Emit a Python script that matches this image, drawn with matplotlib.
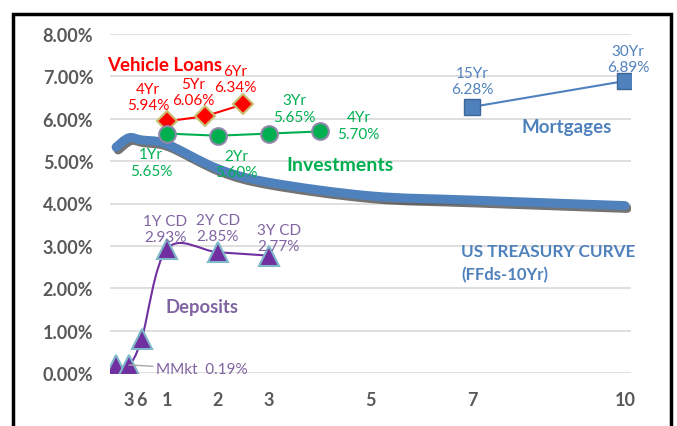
import numpy as np
import matplotlib
matplotlib.use("Agg")
import matplotlib.pyplot as plt
import matplotlib.patheffects as pe
from matplotlib.path import Path
from matplotlib.patches import PathPatch, Rectangle

plt.rcParams['font.family'] = ['Lato', 'DejaVu Sans']

# --- data (x = years to maturity, y = rate %) ---
treasury_x = [0, 0.25, 0.5, 1, 2, 3, 5, 7, 10]
treasury_y = [5.33, 5.55, 5.50, 5.40, 4.82, 4.50, 4.18, 4.08, 3.95]

vehicle_x = [1, 1.75, 2.5]
vehicle_y = [5.94, 6.06, 6.34]
vehicle_terms = ["4Yr", "5Yr", "6Yr"]

invest_x = [1, 2, 3, 4]
invest_y = [5.65, 5.60, 5.65, 5.70]
invest_terms = ["1Yr", "2Yr", "3Yr", "4Yr"]

mortgage_x = [7, 10]
mortgage_y = [6.28, 6.89]
mortgage_terms = ["15Yr", "30Yr"]

deposit_x = [0, 0.25, 0.5, 1, 2, 3]
deposit_y = [0.19, 0.19, 0.80, 2.93, 2.85, 2.77]
deposit_terms = ["", "MMkt", "", "1Y CD", "2Y CD", "3Y CD"]

xtick_pos = [0.25, 0.5, 1, 2, 3, 5, 7, 10]
xtick_lbl = ["3", "6", "1", "2", "3", "5", "7", "10"]
ytick_pos = np.arange(0, 9)

RED = "#FF0000"
GREEN = "#00B050"
BLUE = "#4F81BD"
PURPLE = "#7030A0"
PURPLE_TXT = "#8064A2"
GRAY = "#595959"


def smooth_path(xs, ys):
    # excel-like smoothed line: catmull-rom segments as cubic beziers
    pts = np.column_stack([xs, ys]).astype(float)
    verts = [pts[0]]
    codes = [Path.MOVETO]
    n = len(pts)
    for i in range(n - 1):
        p0 = pts[i - 1] if i > 0 else pts[i]
        p1, p2 = pts[i], pts[i + 1]
        p3 = pts[i + 2] if i + 2 < n else pts[i + 1]
        c1 = p1 + (p2 - p0) / 6.0
        c2 = p2 - (p3 - p1) / 6.0
        verts += [c1, c2, p2]
        codes += [Path.CURVE4] * 3
    return Path(verts, codes)


fig = plt.figure(figsize=(6.77, 4.27), dpi=100)
ax = fig.add_axes([110 / 677, 1 - 374 / 427, 521 / 677, 339 / 427])
ax.set_xlim(-0.12, 10.12)
ax.set_ylim(0, 8)

for s in ax.spines.values():
    s.set_visible(False)
ax.set_yticks(ytick_pos)
ax.set_yticklabels([f"{v:.2f}%" for v in ytick_pos])
ax.set_xticks(xtick_pos)
ax.set_xticklabels(xtick_lbl)
ax.tick_params(length=0, labelcolor=GRAY, labelsize=13)
ax.tick_params(axis='y', pad=12)
ax.tick_params(axis='x', pad=13)
for lab in ax.get_xticklabels() + ax.get_yticklabels():
    lab.set_fontweight('bold')
ax.grid(axis='y', color='#D9D9D9', linewidth=1.2)
ax.set_axisbelow(True)

# treasury curve, thick with shadow
tp = PathPatch(smooth_path(treasury_x, treasury_y), facecolor='none',
               edgecolor=BLUE, linewidth=6.5, capstyle='round', zorder=2,
               path_effects=[pe.SimpleLineShadow(offset=(1.5, -2), shadow_color='black', alpha=0.55),
                             pe.Normal()])
ax.add_patch(tp)

# deposits (smoothed)
dp = PathPatch(smooth_path(deposit_x, deposit_y), facecolor='none',
               edgecolor=PURPLE, linewidth=1.5, zorder=3)
ax.add_patch(dp)
ax.plot(deposit_x, deposit_y, linestyle='none', marker='^', markersize=14,
        markerfacecolor=PURPLE, markeredgecolor='#7FB8C8', markeredgewidth=1.5, zorder=4)

ax.plot(vehicle_x, vehicle_y, color=RED, linewidth=1.5, marker='D', markersize=10,
        markerfacecolor=RED, markeredgecolor='#C8C070', markeredgewidth=1.5, zorder=4)
ax.plot(invest_x, invest_y, color=GREEN, linewidth=1.5, marker='o', markersize=12,
        markerfacecolor=GREEN, markeredgecolor='#8F86AA', markeredgewidth=1.5, zorder=4)
ax.plot(mortgage_x, mortgage_y, color=BLUE, linewidth=1.5, marker='s', markersize=11,
        markerfacecolor=BLUE, markeredgecolor='#3A6698', markeredgewidth=1, zorder=4)


def label(x, y, txt, dx, dy, color, ha='center'):
    ax.annotate(txt, (x, y), xytext=(dx, dy), textcoords='offset pixels',
                ha=ha, va='center', color=color, fontsize=11, linespacing=1.2, zorder=6)


veh_off = [(-19, 24), (-12, 24), (-8, 25)]
for x, y, t, o in zip(vehicle_x, vehicle_y, vehicle_terms, veh_off):
    label(x, y, f"{t}\n{y:.2f}%", o[0], o[1], RED)

inv_off = [(-16, -29), (18, -28), (26, 25), (39, 6)]
for x, y, t, o in zip(invest_x, invest_y, invest_terms, inv_off):
    label(x, y, f"{t}\n{y:.2f}%", o[0], o[1], GREEN)

mort_off = [(0, 26), (3, 22)]
for x, y, t, o in zip(mortgage_x, mortgage_y, mortgage_terms, mort_off):
    label(x, y, f"{t}\n{y:.2f}%", o[0], o[1], BLUE)

dep_off = {3: (-2, 20), 4: (0, 24), 5: (10, 18)}
for i, o in dep_off.items():
    label(deposit_x[i], deposit_y[i], f"{deposit_terms[i]}\n{deposit_y[i]:.2f}%", o[0], o[1], PURPLE_TXT)

# MMkt label with leader line
ax.annotate(f"MMkt  {deposit_y[1]:.2f}%", (deposit_x[1], deposit_y[1]), xytext=(27, -4),
            textcoords='offset pixels', ha='left', va='center', color=PURPLE_TXT, fontsize=11,
            arrowprops=dict(arrowstyle='-', color='#A6A6A6', lw=1, shrinkA=0, shrinkB=0),
            zorder=6)

# series names
ax.text(0.96, 7.29, "Vehicle Loans", color=RED, fontsize=13.5, fontweight='bold', ha='center', va='center')
ax.text(4.4, 4.92, "Investments", color=GREEN, fontsize=14, fontweight='bold', ha='center', va='center')
ax.text(8.86, 5.81, "Mortgages", color=BLUE, fontsize=13.5, fontweight='bold', ha='center', va='center')
ax.text(6.78, 2.87, "US TREASURY CURVE", color=BLUE, fontsize=12.3, fontweight='bold', ha='left', va='center')
ax.text(6.78, 2.33, "(FFds-10Yr)", color=BLUE, fontsize=12, fontweight='bold', ha='left', va='center')
ax.text(1.69, 1.58, "Deposits", color=PURPLE_TXT, fontsize=13.3, fontweight='bold', ha='center', va='center')

# outer frame
fig.patches.append(Rectangle((12.5 / 677, -0.2), 658 / 677, 1.2 - 14.5 / 427, transform=fig.transFigure,
                             fill=False, edgecolor='black', linewidth=2.5))

fig.savefig("out.png", dpi=100)
